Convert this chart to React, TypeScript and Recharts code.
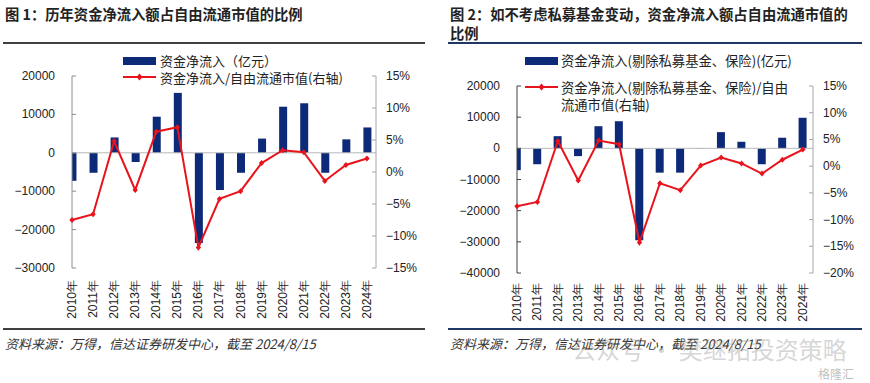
import { ComposedChart, Bar, Line, XAxis, YAxis, ReferenceLine } from "recharts";

// 年份 & 数据
const years = ["2010年", "2011年", "2012年", "2013年", "2014年", "2015年", "2016年", "2017年", "2018年", "2019年", "2020年", "2021年", "2022年", "2023年", "2024年"];

// 图1: 资金净流入（亿元）及占自由流通市值比例（%）
const flow1 = [-7300, -5200, 4000, -2400, 9400, 15600, -23500, -9700, -5200, 3700, 12000, 12900, -5200, 3500, 6600];
const ratio1 = [-7.5, -6.6, 4.8, -2.8, 6.3, 7.0, -11.8, -4.2, -3.0, 1.4, 3.4, 3.1, -1.4, 1.1, 2.1];

// 图2: 剔除私募基金、保险
const flow2 = [-7000, -5100, 3900, -2500, 7100, 8700, -29500, -7800, -7800, -100, 5200, 2100, -5100, 3400, 9800];
const ratio2 = [-7.5, -6.7, 4.7, -2.7, 4.8, 4.1, -14.3, -3.2, -4.5, 0.1, 1.6, 0.5, -1.4, 1.2, 3.1];

const leftTicks1 = [-30000, -20000, -10000, 0, 10000, 20000];
const rightTicks1 = [-15, -10, -5, 0, 5, 10, 15];
const leftTicks2 = [-40000, -30000, -20000, -10000, 0, 10000, 20000];
const rightTicks2 = [-20, -15, -10, -5, 0, 5, 10, 15];

const NAVY = "#0c2a78";
const RED = "#e8141c";
const NUM_FONT = '"Liberation Sans", Arial, sans-serif';
const CJK_FONT = '"Noto Sans CJK SC", "Noto Sans", sans-serif';

const minus = (s: string) => s.replace("-", "\u2212");

type Cfg = {
  width: number;
  height: number;
  top: number;
  xAxisH: number;
  leftW: number;
  rightW: number;
  xMax: number;
  leftDomain: [number, number];
  rightDomain: [number, number];
  leftTicks: number[];
  rightTicks: number[];
  leftAxisColor: string;
  labelGap: number;
};

const Diamond = (props: any) => {
  const { cx, cy, index, r = 5 } = props;
  if (cx == null || cy == null) return null;
  return (
    <path
      key={`dm-${index}`}
      d={`M${cx},${cy - r}L${cx + r * 0.9},${cy}L${cx},${cy + r}L${cx - r * 0.9},${cy}Z`}
      fill={RED}
    />
  );
};

function FlowChart({ flows, ratios, cfg }: { flows: number[]; ratios: number[]; cfg: Cfg }) {
  const data = years.map((y, i) => ({ i, year: y, flow: flows[i], ratio: ratios[i] }));
  const axL = cfg.leftW;
  const axR = cfg.width - cfg.rightW;
  const plotBottom = cfg.height - cfg.xAxisH;

  const LeftTick = (p: any) => (
    <g>
      <line x1={axL} x2={axL + 4} y1={p.y} y2={p.y} stroke={cfg.leftAxisColor} />
      <text x={axL - 17} y={p.y} textAnchor="end" dominantBaseline="central" fontSize={12} fontFamily={NUM_FONT} fill="#222">
        {minus(String(p.payload.value))}
      </text>
    </g>
  );

  const RightTick = (p: any) => (
    <g>
      <line x1={axR} x2={axR - 4} y1={p.y} y2={p.y} stroke="#a6a6a6" />
      <text x={axR + 10} y={p.y} textAnchor="start" dominantBaseline="central" fontSize={12} fontFamily={NUM_FONT} fill="#222">
        {minus(`${p.payload.value}%`)}
      </text>
    </g>
  );

  const YearTick = (p: any) => {
    const top = plotBottom + cfg.labelGap;
    return (
      <text
        x={p.x}
        y={top}
        transform={`rotate(-90 ${p.x} ${top})`}
        textAnchor="end"
        dominantBaseline="central"
        fontSize={12}
        fontFamily={NUM_FONT}
        fill="#222"
      >
        {years[p.payload.value]}
      </text>
    );
  };

  return (
    <ComposedChart
      width={cfg.width}
      height={cfg.height}
      data={data}
      margin={{ top: cfg.top, right: 0, bottom: 0, left: 0 }}
    >
      <XAxis
        xAxisId="b"
        dataKey="i"
        type="number"
        domain={[0, cfg.xMax]}
        ticks={years.map((_, i) => i)}
        allowDataOverflow
        height={cfg.xAxisH}
        axisLine={false}
        tickLine={false}
        tick={YearTick}
        interval={0}
      />
      <XAxis xAxisId="l" dataKey="i" type="number" domain={[0, cfg.xMax]} hide />
      <YAxis
        yAxisId="left"
        orientation="left"
        width={cfg.leftW}
        domain={cfg.leftDomain}
        ticks={cfg.leftTicks}
        stroke={cfg.leftAxisColor}
        tickLine={false}
        tick={LeftTick}
        interval={0}
      />
      <YAxis
        yAxisId="right"
        orientation="right"
        width={cfg.rightW}
        domain={cfg.rightDomain}
        ticks={cfg.rightTicks}
        stroke="#a6a6a6"
        tickLine={false}
        tick={RightTick}
        interval={0}
      />
      <ReferenceLine xAxisId="b" yAxisId="left" y={0} stroke="#b8b8b8" strokeWidth={1} />
      <Bar xAxisId="b" yAxisId="left" dataKey="flow" fill={NAVY} barSize={8} isAnimationActive={false} />
      <Line
        xAxisId="l"
        yAxisId="right"
        dataKey="ratio"
        type="linear"
        stroke={RED}
        strokeWidth={2}
        dot={<Diamond />}
        activeDot={false}
        isAnimationActive={false}
      />
    </ComposedChart>
  );
}

const BarIcon = () => (
  <svg width={33} height={8} style={{ display: "block" }}>
    <rect x={0} y={0} width={33} height={8} fill={NAVY} />
  </svg>
);

const LineIcon = () => (
  <svg width={33} height={10} style={{ display: "block" }}>
    <line x1={0} x2={33} y1={5} y2={5} stroke={RED} strokeWidth={2} />
    <path d="M16.5,1.5L19.5,5L16.5,8.5L13.5,5Z" fill={RED} />
  </svg>
);

const abs = (left: number, top: number, extra: any = {}) => ({ position: "absolute" as const, left, top, ...extra });
const txt = { fontFamily: CJK_FONT, color: "#222", whiteSpace: "nowrap" as const };

const cfg1: Cfg = {
  width: 435,
  height: 330,
  top: 76,
  xAxisH: 62,
  leftW: 72,
  rightW: 59,
  xMax: 14.43,
  leftDomain: [-30000, 20000],
  rightDomain: [-15, 15],
  leftTicks: leftTicks1,
  rightTicks: rightTicks1,
  leftAxisColor: "#8c8c8c",
  labelGap: 12,
};

const cfg2: Cfg = {
  width: 435,
  height: 330,
  top: 86,
  xAxisH: 57,
  leftW: 82,
  rightW: 57,
  xMax: 14.5,
  leftDomain: [-40000, 20000],
  rightDomain: [-20, 15],
  leftTicks: leftTicks2,
  rightTicks: rightTicks2,
  leftAxisColor: "#404040",
  labelGap: 10,
};

export default function App() {
  return (
    <div style={{ position: "absolute", left: 0, top: 0, width: 870, height: 383, background: "#fff", overflow: "hidden" }}>
      {/* 图1 */}
      <div style={abs(5, 4, { ...txt, fontSize: 14.3, fontWeight: 700, lineHeight: "20px" })}>图 1：历年资金净流入额占自由流通市值的比例</div>
      <div style={abs(3, 42, { width: 422, height: 2, background: "#404040" })} />
      <div style={abs(0, 0)}>
        <FlowChart flows={flow1} ratios={ratio1} cfg={cfg1} />
      </div>
      <div style={abs(123, 57)}><BarIcon /></div>
      <div style={abs(160, 53, { ...txt, fontSize: 13, lineHeight: "15px" })}>资金净流入（亿元）</div>
      <div style={abs(123, 72)}><LineIcon /></div>
      <div style={abs(160, 70, { ...txt, fontSize: 13, lineHeight: "15px" })}>资金净流入/自由流通市值(右轴)</div>
      <div style={abs(3, 328, { width: 422, height: 2, background: "#404040" })} />
      <div style={abs(5, 336, { ...txt, fontSize: 13, fontStyle: "italic", lineHeight: "16px", color: "#333" })}>
        资料来源：万得，信达证券研发中心，截至 2024/8/15
      </div>

      {/* 图2 */}
      <div style={abs(450, 4, { ...txt, fontSize: 14.3, fontWeight: 700, lineHeight: "19px" })}>
        图 2：如不考虑私募基金变动，资金净流入额占自由流通市值的
        <br />
        比例
      </div>
      <div style={abs(448, 42, { width: 414, height: 2, background: "#1f3864" })} />
      <div style={abs(435, 0)}>
        <FlowChart flows={flow2} ratios={ratio2} cfg={cfg2} />
      </div>
      <div style={abs(525, 57)}><BarIcon /></div>
      <div style={abs(561, 53, { ...txt, fontSize: 13.3, lineHeight: "16px" })}>资金净流入(剔除私募基金、保险)(亿元)</div>
      <div style={abs(525, 82)}><LineIcon /></div>
      <div style={abs(561, 79, { ...txt, fontSize: 13.3, lineHeight: "17px" })}>
        资金净流入(剔除私募基金、保险)/自由
        <br />
        流通市值(右轴)
      </div>
      <div style={abs(448, 328, { width: 414, height: 2, background: "#1f3864" })} />
      <div style={abs(450, 336, { ...txt, fontSize: 13, fontStyle: "italic", lineHeight: "16px", color: "#333" })}>
        资料来源：万得，信达证券研发中心，截至 2024/8/15
      </div>

      {/* 水印 */}
      <div style={abs(572, 336, { ...txt, fontSize: 24, lineHeight: "26px", color: "rgba(150,150,150,0.4)" })}>公众号 · 樊继拓投资策略</div>
      <div style={abs(818, 367, { ...txt, fontSize: 12, lineHeight: "14px", color: "rgba(150,150,150,0.6)" })}>格隆汇</div>
    </div>
  );
}
